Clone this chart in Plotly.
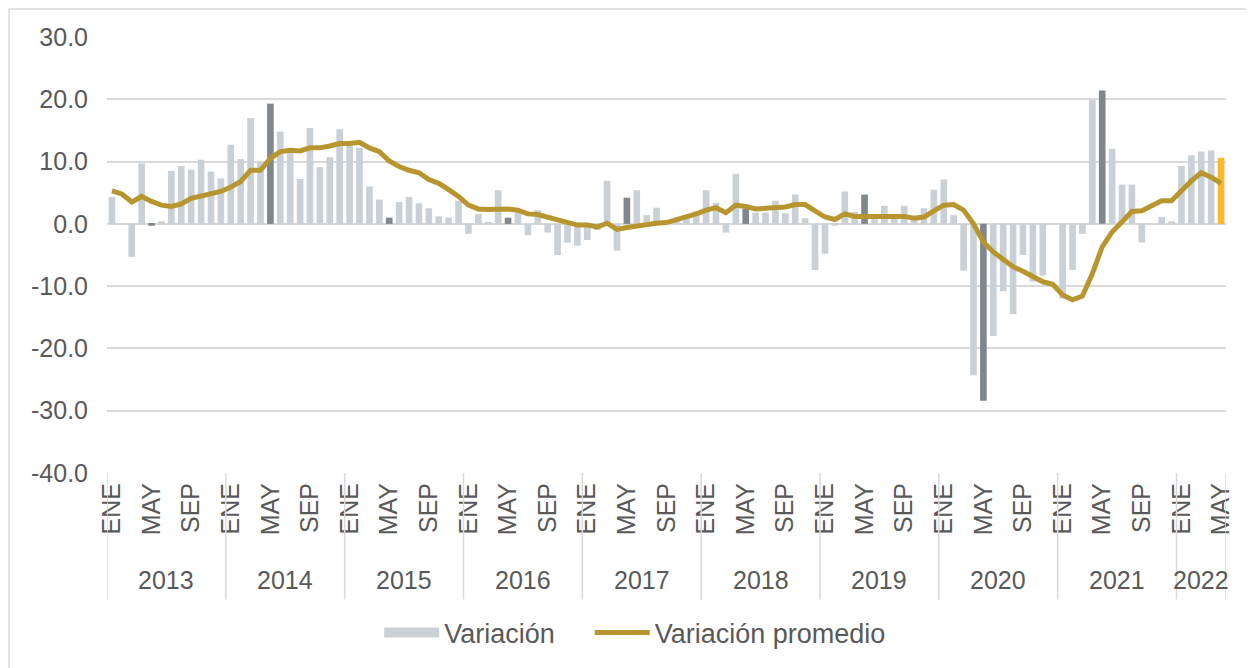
import plotly.graph_objects as go

years = ["2013", "2014", "2015", "2016", "2017", "2018", "2019", "2020", "2021", "2022"]
months = ["ENE", "FEB", "MAR", "ABR", "MAY", "JUN", "JUL", "AGO", "SEP", "OCT", "NOV", "DIC"]
shown_months = ["ENE", "MAY", "SEP"]
y_ticks = [-40, -30, -20, -10, 0, 10, 20, 30]

# Variación mensual (barras)
var_2013 = [4.3, 0.0, -5.3, 9.7, -0.3, 0.4, 8.5, 9.3, 8.7, 10.3, 8.4, 7.3]
var_2014 = [12.7, 10.4, 17.0, 10.0, 19.3, 14.8, 11.4, 7.2, 15.4, 9.1, 10.7, 15.2]
var_2015 = [12.5, 12.2, 6.0, 3.9, 1.0, 3.5, 4.3, 3.3, 2.5, 1.2, 1.0, 3.7]
var_2016 = [-1.6, 1.6, 0.2, 5.4, 1.0, 1.8, -1.8, 2.2, -1.4, -5.0, -3.0, -3.5]
var_2017 = [-2.6, -1.0, 6.9, -4.3, 4.2, 5.4, 1.4, 2.6, 0.3, 0.7, 1.3, 2.0]
var_2018 = [5.4, 3.4, -1.4, 8.0, 2.4, 1.8, 1.8, 3.7, 1.7, 4.7, 0.9, -7.4]
var_2019 = [-4.8, -0.3, 5.2, 1.9, 4.7, 0.8, 2.9, 1.0, 2.9, 0.8, 2.5, 5.5]
var_2020 = [7.1, 1.4, -7.5, -24.3, -28.4, -18.0, -10.8, -14.5, -5.0, -9.3, -8.3, 0.0]
var_2021 = [-12.0, -7.4, -1.6, 19.9, 21.4, 12.0, 6.3, 6.3, -3.0, 0.0, 1.1, 0.4]
var_2022 = [9.3, 11.0, 11.6, 11.8, 10.6]

# Variación promedio (línea)
prom_2013 = [5.3, 4.8, 3.5, 4.4, 3.6, 3.0, 2.8, 3.2, 4.1, 4.5, 4.9, 5.2]
prom_2014 = [5.9, 6.8, 8.6, 8.6, 10.5, 11.6, 11.8, 11.7, 12.2, 12.2, 12.5, 12.9]
prom_2015 = [12.9, 13.1, 12.2, 11.6, 10.1, 9.2, 8.6, 8.2, 7.1, 6.5, 5.5, 4.4]
prom_2016 = [3.0, 2.4, 2.3, 2.4, 2.4, 2.2, 1.6, 1.5, 1.1, 0.7, 0.4, -0.2]
prom_2017 = [-0.2, -0.5, 0.1, -0.9, -0.6, -0.3, -0.1, 0.1, 0.2, 0.6, 1.0, 1.6]
prom_2018 = [2.2, 2.6, 1.8, 3.0, 2.8, 2.4, 2.5, 2.6, 2.7, 3.1, 3.1, 2.1]
prom_2019 = [1.1, 0.7, 1.6, 1.2, 1.2, 1.2, 1.2, 1.1, 1.2, 0.9, 1.1, 2.1]
prom_2020 = [3.0, 3.1, 2.2, 0.0, -2.9, -4.5, -5.6, -6.9, -7.6, -8.5, -9.3, -9.7]
prom_2021 = [-11.4, -12.2, -11.6, -8.0, -3.7, -1.3, 0.3, 2.0, 2.1, 2.9, 3.7, 3.7]
prom_2022 = [5.3, 6.9, 8.2, 7.5, 6.5]

var_by_year = [var_2013, var_2014, var_2015, var_2016, var_2017,
               var_2018, var_2019, var_2020, var_2021, var_2022]
prom_by_year = [prom_2013, prom_2014, prom_2015, prom_2016, prom_2017,
                prom_2018, prom_2019, prom_2020, prom_2021, prom_2022]

cats, mon_of, variacion, promedio = [], [], [], []
for y, vs, ps in zip(years, var_by_year, prom_by_year):
    for k, (v, p) in enumerate(zip(vs, ps)):
        cats.append(f"{months[k]} {y}")
        mon_of.append(months[k])
        variacion.append(v)
        promedio.append(p)

LIGHT = "#C9D0D6"
DARK = "#7F878D"
YELLOW = "#FBB829"
GOLD = "#B8962F"
TXT = "#595959"
GRID = "#D9D9D9"

bar_colors = [DARK if m == "MAY" else LIGHT for m in mon_of]
bar_colors[-1] = YELLOW

tickvals = [c for c, m in zip(cats, mon_of) if m in shown_months]
ticktext = [c.split(" ")[0] for c in tickvals]

NBSP = "\u00a0"

fig = go.Figure()
fig.add_trace(go.Bar(x=cats, y=variacion, name="Variación", showlegend=False,
                     marker=dict(color=bar_colors, line=dict(width=0))))
# legend swatch for the bars (wide grey block, as in the original legend)
fig.add_trace(go.Scatter(x=[None], y=[None], name="Variación" + NBSP * 4, mode="lines",
                         line=dict(color=LIGHT, width=14)))
fig.add_trace(go.Scatter(x=cats, y=promedio, name="Variación promedio", mode="lines",
                         line=dict(color=GOLD, width=5)))

# year group labels and dividers
n_per_year = [len(v) for v in var_by_year]
start = 0
shapes = []
annotations = []
for y, n in zip(years, n_per_year):
    shapes.append(dict(type="line", xref="x", yref="paper", x0=start - 0.5, x1=start - 0.5,
                       y0=0, y1=-0.29, line=dict(color=GRID, width=1.5)))
    annotations.append(dict(text=y, xref="x", yref="paper", x=start + (n - 1) / 2, y=-0.245,
                            showarrow=False, xanchor="center", yanchor="middle",
                            font=dict(size=25, color=TXT)))
    start += n
shapes.append(dict(type="line", xref="x", yref="paper", x0=start - 0.5, x1=start - 0.5,
                   y0=0, y1=-0.29, line=dict(color=GRID, width=1.5)))
# outer frame
shapes.append(dict(type="rect", xref="paper", yref="paper", x0=-0.0875, x1=1.06,
                   y0=-0.47, y1=1.064, line=dict(color=GRID, width=1.5), layer="below"))

fig.update_layout(
    width=1254, height=668,
    margin=dict(l=99, r=36, t=29, b=203),
    plot_bgcolor="white", paper_bgcolor="white",
    font=dict(family="Liberation Sans, Arial, sans-serif", size=25, color=TXT),
    bargap=0.33,
    showlegend=True,
    legend=dict(orientation="h", x=0.472, xanchor="center", y=-0.367, yanchor="middle",
                font=dict(size=27, color=TXT), bgcolor="rgba(0,0,0,0)",
                itemwidth=55, traceorder="normal"),
    shapes=shapes,
    annotations=annotations,
)
fig.update_xaxes(type="category", categoryorder="array", categoryarray=cats,
                 range=[-0.5, len(cats) - 0.5],
                 tickmode="array", tickvals=tickvals, ticktext=ticktext,
                 tickangle=-90, ticks="", showgrid=False, showline=False,
                 ticklabelstandoff=4, automargin=False,
                 tickfont=dict(size=25, color=TXT))
fig.update_yaxes(range=[-40, 30], tickmode="array", tickvals=y_ticks,
                 ticktext=[f"{v:.1f}" for v in y_ticks],
                 showgrid=True, gridcolor=GRID, gridwidth=2,
                 zeroline=False, showline=False, ticks="",
                 ticklabelstandoff=18, automargin=False,
                 tickfont=dict(size=25, color=TXT))

fig.write_html("out.html")
